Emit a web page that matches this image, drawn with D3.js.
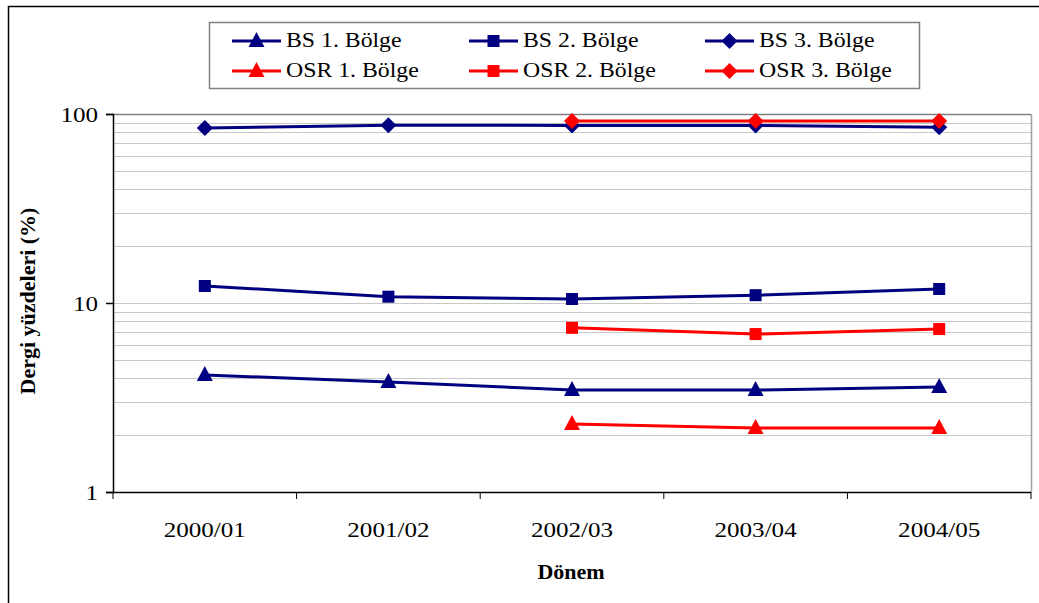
<!DOCTYPE html>
<html><head><meta charset="utf-8">
<script src="https://cdn.jsdelivr.net/npm/d3@7"></script>
<style>body{margin:0;background:#fff}svg{display:block}</style>
</head><body><svg id="c" width="1039" height="603"></svg>
<script>
const categories = ["2000/01","2001/02","2002/03","2003/04","2004/05"];
const bs1 = [4.16, 3.82, 3.46, 3.46, 3.59];
const bs2 = [12.3, 10.8, 10.5, 11.0, 11.86];
const bs3 = [84.3, 87.2, 87.0, 87.0, 85.0];
const osr1 = [null, null, 2.29, 2.18, 2.18];
const osr2 = [null, null, 7.39, 6.85, 7.28];
const osr3 = [null, null, 91.8, 91.8, 91.8];
const yTicks = [1, 10, 100];
const series = [
  {name:"BS 1. Bölge", values:bs1, color:"#000080", marker:"triangle"},
  {name:"BS 2. Bölge", values:bs2, color:"#000080", marker:"square"},
  {name:"BS 3. Bölge", values:bs3, color:"#000080", marker:"diamond"},
  {name:"OSR 1. Bölge", values:osr1, color:"#ff0000", marker:"triangle"},
  {name:"OSR 2. Bölge", values:osr2, color:"#ff0000", marker:"square"},
  {name:"OSR 3. Bölge", values:osr3, color:"#ff0000", marker:"diamond"}
];
const FONT = "Liberation Serif";
const svg = d3.select("#c");
const L=113,R=1031,T=114,B=492;
function txt(g, x, y, s, size, anchor, opts={}){
  const sx = opts.sx || 1.14;
  const t = g.append("text").attr("font-family",FONT).attr("font-size",size).attr("fill","#000")
    .attr("text-anchor",anchor).attr("x",0).attr("y",0).text(s);
  if (opts.bold) t.attr("font-weight","bold");
  if (opts.rot) t.attr("transform",`translate(${x},${y}) rotate(-90) scale(${sx},1)`);
  else t.attr("transform",`translate(${x},${y}) scale(${sx},1)`);
  return t;
}
// outer frame
svg.append("path").attr("d","M8.5,603 V6.5 H1039").attr("fill","none").attr("stroke","#000").attr("stroke-width",1.5);
const x = d3.scaleBand().domain(categories).range([L,R]);
const y = d3.scaleLog().domain([1,100]).range([B,T]);
// gridlines
const grid=[];
for (let d=1; d<100; d*=10) for (let k=2;k<=10;k++) grid.push(d*k);
svg.append("g").selectAll("line").data(grid).join("line")
  .attr("x1",L).attr("x2",R).attr("y1",d=>Math.round(y(d))+0.5).attr("y2",d=>Math.round(y(d))+0.5)
  .attr("stroke",d=>d===100?"#808080":"#c8c8c8").attr("stroke-width",d=>d===100?1.5:1);
// right border
svg.append("line").attr("x1",R+0.5).attr("x2",R+0.5).attr("y1",T).attr("y2",B).attr("stroke","#a0a0a0").attr("stroke-width",1.5);
// y axis
const ya = svg.append("g").attr("transform",`translate(${L},0)`)
  .call(d3.axisLeft(y).tickValues(yTicks).tickFormat("").tickSize(7));
ya.select(".domain").attr("stroke","#000").attr("stroke-width",1.5);
ya.selectAll(".tick line").attr("stroke","#000").attr("stroke-width",1.5);
yTicks.forEach(v=>txt(svg, 98, y(v)+8, d3.format("d")(v), 22, "end"));
// x axis
const xa = svg.append("g").attr("transform",`translate(0,${B})`)
  .call(d3.axisBottom(x).tickSize(0).tickFormat(""));
xa.select(".domain").attr("stroke","#000").attr("stroke-width",1.5).attr("d",`M${L},0.5H${R}`);
svg.append("g").selectAll("line").data(d3.range(categories.length+1)).join("line")
  .attr("x1",i=>L+i*x.step()).attr("x2",i=>L+i*x.step()).attr("y1",B).attr("y2",B+7).attr("stroke","#000");
categories.forEach(c=>txt(svg, x(c)+x.bandwidth()/2, 537, c, 22, "middle"));
// titles
txt(svg, 571, 579, "Dönem", 20, "middle", {bold:true, sx:1.1});
txt(svg, 35, 301, "Dergi yüzdeleri (%)", 20, "middle", {bold:true, rot:true, sx:1.1});
// markers
function marker(g, type, cx, cy, color){
  if(type==="square") g.append("rect").attr("x",cx-6).attr("y",cy-6).attr("width",12).attr("height",12).attr("fill",color);
  else if(type==="triangle") g.append("path").attr("d",`M${cx},${cy-9}L${cx+8},${cy+6}L${cx-8},${cy+6}Z`).attr("fill",color);
  else g.append("path").attr("d",`M${cx},${cy-8}L${cx+8},${cy}L${cx},${cy+8}L${cx-8},${cy}Z`).attr("fill",color);
}
const line = d3.line().defined(d=>d.v!=null).x(d=>x(d.c)+x.bandwidth()/2).y(d=>y(d.v));
series.forEach(s=>{
  const pts = categories.map((c,i)=>({c, v:s.values[i]}));
  const g = svg.append("g");
  g.append("path").attr("d",line(pts)).attr("fill","none").attr("stroke",s.color).attr("stroke-width",3);
  pts.filter(p=>p.v!=null).forEach(p=>marker(g,s.marker,x(p.c)+x.bandwidth()/2,y(p.v),s.color));
});
// legend
const lg = svg.append("g");
lg.append("rect").attr("x",209.5).attr("y",22.5).attr("width",710).attr("height",66).attr("fill","#fff").attr("stroke","#808080").attr("stroke-width",1.5);
const colX=[232,469,705], rowY=[41,71];
series.forEach((s,i)=>{
  const cx=colX[i%3], cy=rowY[Math.floor(i/3)];
  lg.append("line").attr("x1",cx).attr("x2",cx+49).attr("y1",cy).attr("y2",cy).attr("stroke",s.color).attr("stroke-width",3);
  marker(lg,s.marker,cx+24.5,cy,s.color);
  txt(lg, cx+54, cy+6, s.name, 20.5, "start", {sx:1.16});
});
</script></body></html>
